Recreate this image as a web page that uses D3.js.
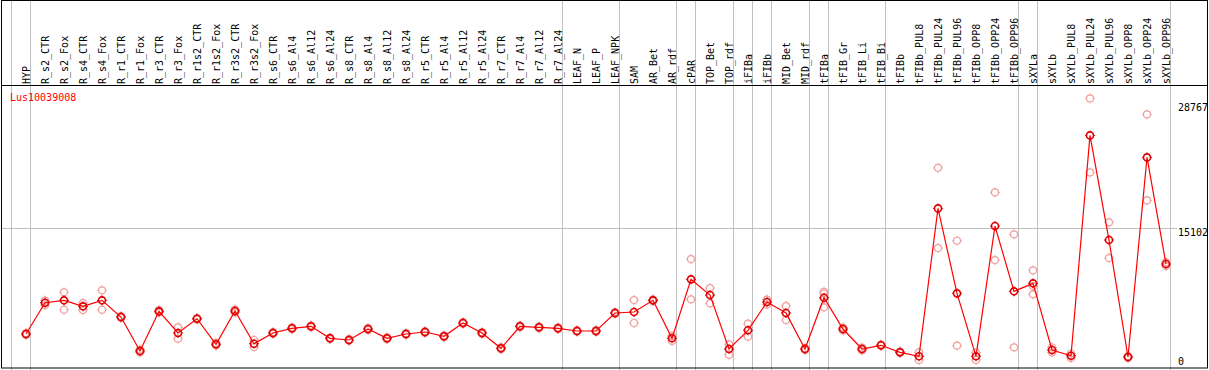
<!DOCTYPE html>
<html>
<head>
<meta charset="utf-8">
<script src="https://cdn.jsdelivr.net/npm/d3@7"></script>
<style>
  body { margin: 0; background: #fff; }
  text { font-family: "DejaVu Sans Mono", monospace; font-size: 10px; }
</style>
</head>
<body>
<script>
var samples = ["HYP", "R_s2_CTR", "R_s2_Fox", "R_s4_CTR", "R_s4_Fox", "R_r1_CTR", "R_r1_Fox",
  "R_r3_CTR", "R_r3_Fox", "R_r1s2_CTR", "R_r1s2_Fox", "R_r3s2_CTR", "R_r3s2_Fox",
  "R_s6_CTR", "R_s6_Al4", "R_s6_Al12", "R_s6_Al24", "R_s8_CTR", "R_s8_Al4", "R_s8_Al12", "R_s8_Al24",
  "R_r5_CTR", "R_r5_Al4", "R_r5_Al12", "R_r5_Al24", "R_r7_CTR", "R_r7_Al4", "R_r7_Al12", "R_r7_Al24",
  "LEAF_N", "LEAF_P", "LEAF_NPK", "SAM", "AR_Bet", "AR_rdf", "cPAR", "TOP_Bet", "TOP_rdf",
  "iFIBa", "iFIBb", "MID_Bet", "MID_rdf", "tFIBa", "tFIB_Gr", "tFIB_Li", "tFIB_Bi",
  "tFIBb", "tFIBb_PUL8", "tFIBb_PUL24", "tFIBb_PUL96", "tFIBb_OPP8", "tFIBb_OPP24", "tFIBb_OPP96",
  "sXYLa", "sXYLb", "sXYLb_PUL8", "sXYLb_PUL24", "sXYLb_PUL96", "sXYLb_OPP8", "sXYLb_OPP24", "sXYLb_OPP96"];

// sample that starts each group (gray separator drawn before it), plus the end
var groupStarts = ["HYP", "R_s2_CTR", "LEAF_N", "SAM", "cPAR", "TOP_Bet", "iFIBa", "iFIBb",
  "MID_Bet", "tFIBa", "tFIB_Gr", "tFIBb", "sXYLa", "sXYLb"];

var means = [3500, 6920, 7183, 6527, 7183, 5357, 1640, 5980, 3608, 5171, 2372, 6013, 2438,
  3608, 4122, 4340, 3028, 2843, 4045, 3028, 3499, 3717, 3247, 4701, 3608, 1935, 4340, 4231, 4122,
  3827, 3827, 5795, 5904, 7183, 3028, 9479, 7763, 1859, 3903, 6997, 5795, 1859, 7467, 4045, 1859, 2263,
  1498, 1060, 17241, 7948, 1060, 15306, 8167, 9042, 1749, 1126, 25222, 13776, 984, 22817, 11152];

var rep1 = [3608, 7161, 8058, 6888, 8276, 5467, 1804, 6122, 4231, 5248, 2515, 6177, 2843,
  3500, 4030, 4250, 2940, 2750, 3950, 2930, 3410, 3620, 3150, 4610, 3510, 1840, 4250, 4140, 4030,
  3740, 3730, 5700, 7216, 7090, 3280, 11698, 8528, 2372, 4625, 7271, 6560, 1968, 8123, 4209, 2023, 2351,
  1585, 1498, 21681, 13699, 1454, 18991, 14399, 10463, 2023, 1367, 29268, 15711, 1093, 27518, 11370];

var rep2 = [3389, 6669, 6155, 6122, 6155, 5248, 1476, 5849, 2985, 5084, 2241, 5849, 2077,
  3720, 4215, 4430, 3115, 2935, 4140, 3125, 3590, 3815, 3345, 4790, 3705, 2030, 4430, 4320, 4215,
  3915, 3925, 5890, 4701, 7275, 2733, 7292, 6855, 1235, 3203, 6724, 5029, 1749, 6418, 3881, 1695, 2187,
  1421, 656, 12901, 2219, 656, 11589, 2044, 7839, 1476, 875, 21177, 11808, 875, 18116, 10933];

// third replicate only where one is visible
var rep3 = {tFIBa: 7948, sXYLa: 8746};

var yTicks = [0, 15102, 28767];
var geneName = "Lus10039008";

var W = 1209, H = 370;
var svg = d3.select("body").append("svg")
  .attr("width", W).attr("height", H);

var x = d3.scalePoint().domain(samples).range([26, 1166]);
var step = x.step();
var y = d3.scaleLinear().domain([0, 28767]).range([366, 103]);

// gray separators
var seps = groupStarts.map(function(s) { return x(s) - 15; });
seps.push(x(samples[samples.length - 1]) + step - 15);
svg.append("g").selectAll("line").data(seps).enter().append("line")
  .attr("x1", function(d) { return d + 0.5; }).attr("x2", function(d) { return d + 0.5; })
  .attr("y1", 0).attr("y2", H)
  .attr("stroke", "#c0c0c0").attr("stroke-width", 1);

// horizontal gray line at mid tick
svg.append("line")
  .attr("x1", 1).attr("x2", 1177)
  .attr("y1", Math.round(y(yTicks[1])) + 0.5).attr("y2", Math.round(y(yTicks[1])) + 0.5)
  .attr("stroke", "#c0c0c0");

// frame
svg.append("rect").attr("x", 1.5).attr("y", 0.5).attr("width", 1206).attr("height", 367.5)
  .attr("fill", "none").attr("stroke", "#000");
svg.append("line").attr("x1", 1).attr("x2", 1208).attr("y1", 85.5).attr("y2", 85.5)
  .attr("stroke", "#000");

// sample labels
svg.append("g").selectAll("text").data(samples).enter().append("text")
  .attr("transform", function(d) { return "translate(" + (x(d) + 3.5) + ",84) rotate(-90)"; })
  .attr("fill", "#000")
  .text(function(d) { return d; });

// y labels
svg.append("g").selectAll("text").data(yTicks).enter().append("text")
  .attr("x", 1178)
  .attr("y", function(d) { return Math.min(y(d) + 8, 365); })
  .attr("fill", "#000")
  .text(function(d) { return d; });

svg.append("text").attr("x", 10).attr("y", 101).attr("fill", "#f00").text(geneName);

// marker: circle with little ticks
function marker(g, cx, cy, color, sw) {
  g.append("circle").attr("cx", cx).attr("cy", cy).attr("r", 3.5)
    .attr("fill", "none").attr("stroke", color).attr("stroke-width", sw);
  g.append("path")
    .attr("d", "M" + cx + "," + (cy - 5) + "v2M" + cx + "," + (cy + 3) + "v2M" + (cx - 5) + "," + cy + "h2M" + (cx + 3) + "," + cy + "h2")
    .attr("stroke", color).attr("stroke-width", 1);
}

// replicates
var reps = svg.append("g");
samples.forEach(function(s, i) {
  var vals = [rep1[i], rep2[i]];
  if (rep3[s] != null) vals.push(rep3[s]);
  vals.forEach(function(v) { marker(reps, x(s), y(v), "#f0a0a0", 1.2); });
});

// mean line
var line = d3.line()
  .x(function(d, i) { return x(samples[i]); })
  .y(function(d) { return y(d); });
svg.append("path").datum(means)
  .attr("d", line)
  .attr("fill", "none").attr("stroke", "#f00").attr("stroke-width", 1.2);

var mg = svg.append("g");
means.forEach(function(v, i) { marker(mg, x(samples[i]), y(v), "#e00000", 1.6); });
</script>
</body>
</html>
